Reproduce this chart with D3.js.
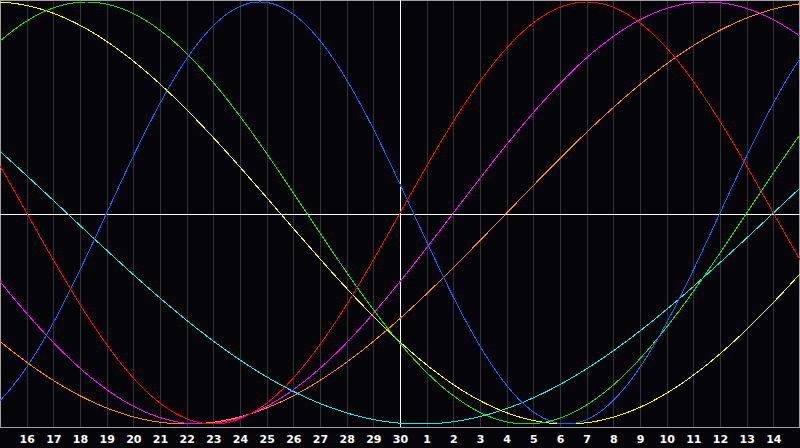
<!DOCTYPE html>
<html>
<head>
<meta charset="utf-8">
<script src="https://cdn.jsdelivr.net/npm/d3@7"></script>
<style>
  html, body { margin: 0; padding: 0; background: #050408; }
  svg { display: block; }
</style>
</head>
<body>
<svg id="chart" width="800" height="448"></svg>
<script>
// ---- data ----
// day labels (offset 1..29 from the left edge; offset 15 = today "30")
const tickLabels = ["16","17","18","19","20","21","22","23","24","25","26","27","28","29","30",
                    "1","2","3","4","5","6","7","8","9","10","11","12","13","14"];
const seriesNames = ["Awareness","Spiritual","Aesthetic","Intuitive","Intellectual","Physical","Emotional"];
const periods     = [48, 53, 43, 38, 33, 23, 28];          // cycle length in days
const zeroOffsets = [19, 29, -11, 17, 28, 4, 15];          // day offset of ascending zero crossing
const colors      = ["#ff8800","#11eeee","#ffff00","#ff00ff","#11dd11","#1166ff","#ff0000"];
const todayOffset = 15;

// ---- layout ----
const W = 800, plotBottom = 427;
const svg = d3.select("#chart");
svg.append("rect").attr("width", 800).attr("height", 448).attr("fill", "#050408");

const x = d3.scaleLinear().domain([0, 30]).range([0, W]);
const y = d3.scaleLinear().domain([-1, 1]).range([424, 2]);

// vertical day grid
const dayTicks = d3.range(1, 30);
svg.append("g").selectAll("line").data(dayTicks).join("line")
  .attr("x1", d => Math.round(x(d)) + 0.5).attr("x2", d => Math.round(x(d)) + 0.5)
  .attr("y1", 0).attr("y2", plotBottom)
  .attr("stroke", "#333333").attr("stroke-width", 1).attr("shape-rendering", "crispEdges");

// frame
const frame = svg.append("g").attr("stroke", "#a0a0a0").attr("stroke-width", 1).attr("shape-rendering", "crispEdges");
frame.append("line").attr("x1", 0.5).attr("x2", 0.5).attr("y1", 0).attr("y2", plotBottom + 1);
frame.append("line").attr("x1", W - 0.5).attr("x2", W - 0.5).attr("y1", 0).attr("y2", plotBottom + 1);
frame.append("line").attr("x1", 0).attr("x2", W).attr("y1", 0.5).attr("y2", 0.5);
frame.append("line").attr("x1", 0).attr("x2", W).attr("y1", plotBottom + 0.5).attr("y2", plotBottom + 0.5);

// zero line and today line
svg.append("line").attr("x1", 0).attr("x2", W).attr("y1", 214.5).attr("y2", 214.5)
  .attr("stroke", "#ffffff").attr("shape-rendering", "crispEdges");
svg.append("line").attr("x1", Math.round(x(todayOffset)) + 0.5).attr("x2", Math.round(x(todayOffset)) + 0.5)
  .attr("y1", 0).attr("y2", plotBottom)
  .attr("stroke", "#ffffff").attr("shape-rendering", "crispEdges");

// curves
const samples = d3.range(0, 30.0001, 0.05);
const line = d3.line().x(d => x(d[0])).y(d => y(d[1]));
seriesNames.forEach((name, i) => {
  const pts = samples.map(t => [t, Math.sin(2 * Math.PI * (t - zeroOffsets[i]) / periods[i])]);
  svg.append("path").datum(pts)
    .attr("d", line)
    .attr("fill", "none")
    .attr("stroke", colors[i])
    .attr("stroke-width", 1)
    .attr("shape-rendering", "crispEdges");
});

// labels
svg.append("g").selectAll("text").data(tickLabels).join("text")
  .attr("x", (d, i) => x(i + 1) + 0.5)
  .attr("y", 443)
  .attr("text-anchor", "middle")
  .attr("fill", "#ffffff")
  .attr("font-family", "DejaVu Sans, sans-serif")
  .attr("font-weight", "bold")
  .attr("font-size", "11px")
  .text(d => d);
</script>
</body>
</html>
